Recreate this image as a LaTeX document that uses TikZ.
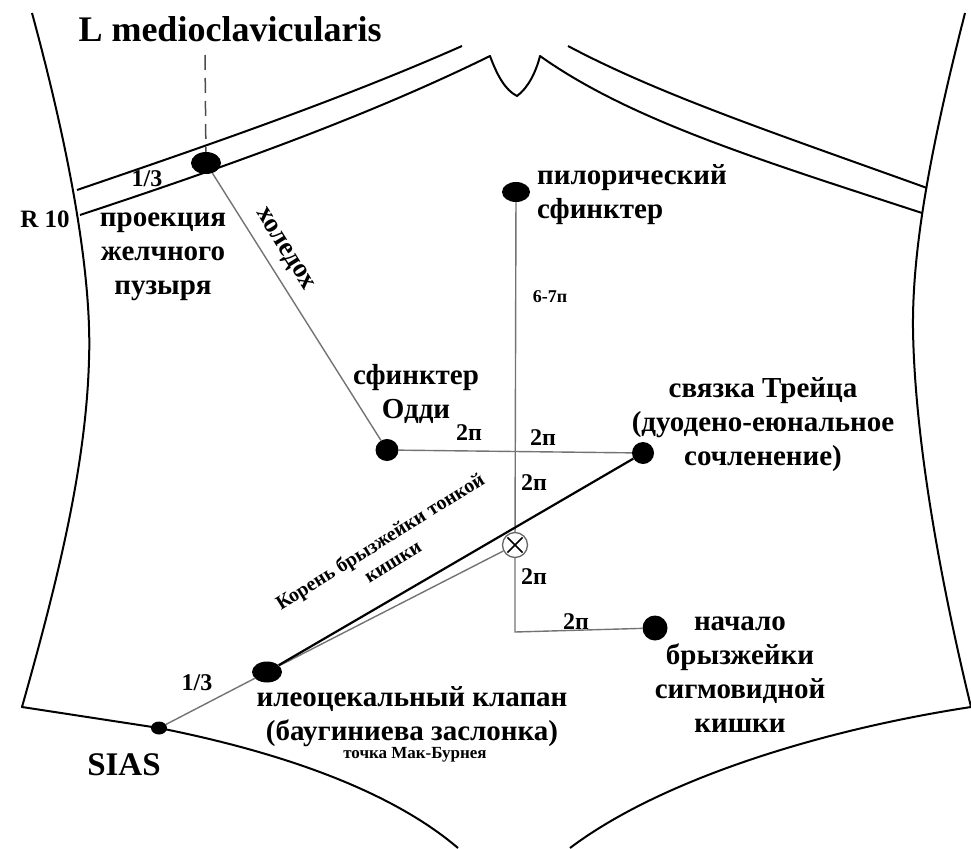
\documentclass[tikz,border=0pt]{standalone}
\usepackage{fontspec}
\setmainfont{Liberation Serif}
\usetikzlibrary{shapes.geometric}

\begin{document}
\begin{tikzpicture}[x=1pt, y=-1pt,
		dot/.style={ellipse, fill=black, inner sep=0pt},
		lbl/.style={font=\bfseries\fontsize{29}{34}\selectfont, align=center, inner sep=0pt},
		num/.style={font=\bfseries\fontsize{24}{28}\selectfont, inner sep=0pt},
		tiny/.style={font=\bfseries\fontsize{18}{21}\selectfont, inner sep=0pt},
		guide/.style={draw=black!55, line width=1.4pt},
		body/.style={line width=2pt, line join=round}]
		\useasboundingbox (0,0) rectangle (971,848);
		%%%%% BODY %%%%%
		\draw[body] (32,13) .. controls (72,160) and (92,280) .. (89,360) .. controls (86,470) and (55,590) .. (22,707) -- (159,728) .. controls (280,752) and (390,790) .. (458,848);
		\draw[body] (965,13) .. controls (930,150) and (912,250) .. (913,330) .. controls (915,450) and (945,600) .. (971,707);
		\draw[body] (971,707) .. controls (820,730) and (660,780) .. (570,848);
		
		%%%%% RIBS %%%%%
		\draw[body] (77,190) .. controls (200,148) and (340,100) .. (462,46);
		\draw[body] (80,215) .. controls (210,172) and (360,120) .. (490,56) .. controls (497,75) and (505,90) .. (517,96) .. controls (528,88) and (536,72) .. (540,56) .. controls (630,120) and (760,160) .. (922,213);
		\draw[body] (568,46) .. controls (660,95) and (780,135) .. (927,188);
		
		%%%%% POINTS %%%%%
		\node[dot, minimum width=30pt, minimum height=22pt] (gall) at (206,163) {};
		\node[dot, minimum width=28pt, minimum height=20pt] (pylor) at (516,192) {};
		\node[dot, minimum width=23pt, minimum height=22pt] (oddi) at (387,450) {};
		\node[dot, minimum width=22pt, minimum height=22pt] (treitz) at (643,453) {};
		\node[dot, minimum width=25pt, minimum height=25pt] (sigma) at (655,628) {};
		\node[dot, minimum width=30pt, minimum height=21pt] (ileo) at (267,672) {};
		\node[dot, minimum width=16pt, minimum height=13pt] (sias) at (159,728) {};
		\node[circle, draw=black!60, line width=1.3pt, minimum size=25pt, inner sep=0pt] (cross) at (515,545) {};
		\foreach \a/\b in {45/225,135/315}
			\draw[line width=1.6pt, shorten >=2.5pt, shorten <=2.5pt] (cross.\a) -- (cross.\b);
		\coordinate (mcl) at (205,55);
		\coordinate (bend) at (515,632);
		
		%%%%% LINES %%%%%
		\draw[black!70, line width=1.5pt, dash pattern=on 15pt off 8pt] (mcl) -- (gall);
		\draw[guide] (gall) -- (oddi);
		\draw[guide] (oddi) -- (treitz);
		\draw[guide] (pylor) -- (cross);
		\draw[guide] (cross) -- (bend) -- (sigma);
		\draw[guide] (cross) -- (ileo);
		\draw[guide] (sias) -- (ileo);
		\draw[line width=2.2pt] (treitz) -- (ileo);
		
		%%%%% TEXT %%%%%
		\node[lbl, font=\bfseries\fontsize{36}{40}\selectfont] (title) at (230,29) {L medioclavicularis};
		\node[num] (third1) at (147,179) {1/3};
		\node[num, font=\bfseries\fontsize{25}{28}\selectfont] (r10) at (45,219) {R 10};
		\node[lbl] (gall-t) at (163,257) {проекция\\желчного\\пузыря};
		\node[lbl, font=\bfseries\fontsize{27}{30}\selectfont, rotate=-58] (chole) at (284,250) {холедох};
		\node[lbl] (oddi-t) at (416,394) {сфинктер\\Одди};
		\node[lbl, align=left, anchor=west] (pylor-t) at (537,195) {пилорический\\сфинктер};
		\node[tiny] (len67) at (550,297) {6-7п};
		\node[num] (len1) at (469,433) {2п};
		\node[num] (len2) at (543,438) {2п};
		\node[num] (len3) at (534,483) {2п};
		\node[num] (len4) at (534,577) {2п};
		\node[num] (len5) at (576,622) {2п};
		\node[lbl] (treitz-t) at (763,425) {связка Трейца\\(дуодено-еюнальное\\сочленение)};
		\node[lbl] (sigma-t) at (740,675) {начало\\брызжейки\\сигмовидной\\кишки};
		\node[lbl, font=\bfseries\fontsize{20}{24}\selectfont, rotate=32] (root-t) at (386,551) {Корень брызжейки тонкой\\кишки};
		\node[lbl] (ileo-t) at (412,717) {илеоцекальный клапан\\(баугиниева заслонка)};
		\node[tiny, font=\bfseries\fontsize{17}{20}\selectfont] (mcb) at (415,755) {точка Мак-Бурнея};
		\node[num, font=\bfseries\fontsize{33}{36}\selectfont] (sias-t) at (124,765) {SIAS};
		\node[num] (third2) at (197,683) {1/3};
	\end{tikzpicture}
\end{document}
